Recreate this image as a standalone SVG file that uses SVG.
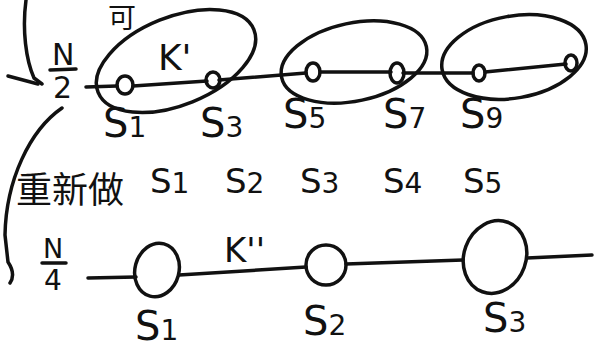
<svg xmlns="http://www.w3.org/2000/svg" width="596" height="361" viewBox="0 0 596 361">
<style>
.s{fill:none;stroke:#111;stroke-width:3.5;stroke-linecap:round;stroke-linejoin:round}
.t{font-family:"DejaVu Sans","Noto Sans CJK SC",sans-serif;fill:#111}
.l{font-size:40px}
.m{font-size:34px}
.d{font-size:28px}
</style>
<rect width="596" height="361" fill="#fff"/>
<g id="top-label"><text class="t" x="108" y="28" font-size="28">可</text></g>
<g id="brackets">
<path class="s" d="M26,0 C22,30 26,60 34,78 L42,84"/>
<path class="s" d="M8,76 L38,84"/>
<path class="s" d="M62,108 C30,130 6,180 5,235 L8,262 Q16,274 10,283"/>
</g>
<g id="frac-n2"><text class="t" x="52" y="65" font-size="30">N</text><path class="s" d="M50,70 L76,69"/><text class="t" x="53" y="98" font-size="30">2</text></g>
<g id="frac-n4"><text class="t" x="43" y="258" font-size="27">N</text><path class="s" d="M42,263 L66,263"/><text class="t" x="44" y="290" font-size="28">4</text></g>
<g id="connectors">
<path class="s" d="M86,87 L117,86"/>
<path class="s" d="M133,86 L207,81"/>
<path class="s" d="M219,80 L306,73"/>
<path class="s" d="M320,72 L391,72"/>
<path class="s" d="M403,73 L473,73"/>
<path class="s" d="M485,72 L566,64"/>
<path class="s" d="M88,278 L136,277"/>
<path class="s" d="M179,275 L306,267"/>
<path class="s" d="M346,264 L463,260"/>
<path class="s" d="M527,258 L592,255"/>
</g>
<g id="group1">
<ellipse class="s" cx="176" cy="61" rx="84" ry="44" transform="rotate(-22 176 61)"/>
<ellipse class="s" cx="125" cy="85" rx="8" ry="9"/>
<ellipse class="s" cx="213" cy="80" rx="7" ry="8"/>
<text class="t" x="158" y="70" font-size="36">K'</text>
</g>
<g id="group2">
<ellipse class="s" cx="354" cy="62" rx="74" ry="39" transform="rotate(-12 354 62)"/>
<ellipse class="s" cx="313" cy="72" rx="7" ry="9"/>
<ellipse class="s" cx="397" cy="73" rx="7" ry="10"/>
</g>
<g id="group3">
<ellipse class="s" cx="514" cy="57" rx="73" ry="41" transform="rotate(-10 514 57)"/>
<ellipse class="s" cx="479" cy="73" rx="6" ry="8"/>
<ellipse class="s" cx="571" cy="63" rx="6" ry="8"/>
</g>
<g id="top-labels">
<text class="t l" x="103" y="137">S<tspan class="d">1</tspan></text>
<text class="t l" x="200" y="137">S<tspan class="d">3</tspan></text>
<text class="t l" x="283" y="128">S<tspan class="d">5</tspan></text>
<text class="t l" x="383" y="128">S<tspan class="d">7</tspan></text>
<text class="t l" x="460" y="128">S<tspan class="d">9</tspan></text>
</g>
<g id="relabel">
<text class="t" x="16" y="203" font-size="36">重新做</text>
<text class="t m" x="150" y="193">S<tspan class="d">1</tspan></text>
<text class="t m" x="225" y="193">S<tspan class="d">2</tspan></text>
<text class="t m" x="300" y="193">S<tspan class="d">3</tspan></text>
<text class="t m" x="383" y="193">S<tspan class="d">4</tspan></text>
<text class="t m" x="463" y="193">S<tspan class="d">5</tspan></text>
</g>
<g id="bottom-nodes">
<ellipse class="s" cx="157" cy="270" rx="22" ry="27" transform="rotate(15 157 270)"/>
<ellipse class="s" cx="326" cy="265" rx="20" ry="20"/>
<ellipse class="s" cx="495" cy="257" rx="31" ry="37" transform="rotate(20 495 257)"/>
<text class="t" x="224" y="262" font-size="34">K''</text>
<text class="t l" x="135" y="340">S<tspan class="d">1</tspan></text>
<text class="t l" x="303" y="335">S<tspan class="d">2</tspan></text>
<text class="t l" x="483" y="332">S<tspan class="d">3</tspan></text>
</g>
</svg>
